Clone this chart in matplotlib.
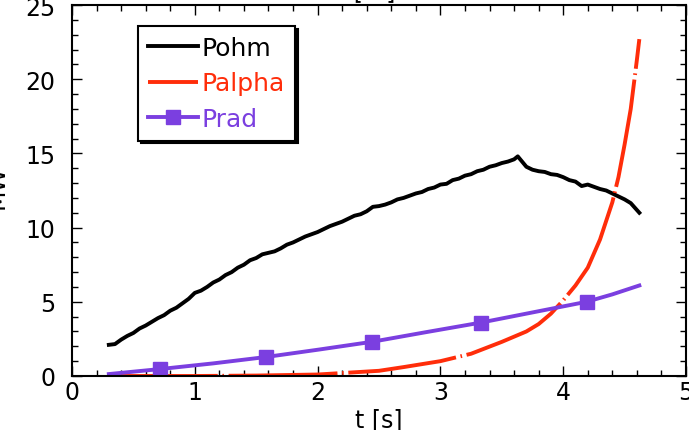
import matplotlib
matplotlib.use("Agg")
import matplotlib.pyplot as plt
from matplotlib.ticker import MultipleLocator

# Ohmic power (MW)
pohm_t = [0.30, 0.35, 0.40, 0.45, 0.50, 0.55, 0.60, 0.65, 0.70, 0.75, 0.80, 0.85, 0.90,
          0.95, 1.00, 1.05, 1.10, 1.15, 1.20, 1.25, 1.30, 1.35, 1.40, 1.45, 1.50, 1.55,
          1.60, 1.65, 1.70, 1.75, 1.80, 1.85, 1.90, 1.95, 2.00, 2.05, 2.10, 2.15, 2.20,
          2.25, 2.30, 2.35, 2.40, 2.45, 2.50, 2.55, 2.60, 2.65, 2.70, 2.75, 2.80, 2.85,
          2.90, 2.95, 3.00, 3.05, 3.10, 3.15, 3.20, 3.25, 3.30, 3.35, 3.40, 3.45, 3.50,
          3.55, 3.60, 3.63, 3.66, 3.70, 3.75, 3.80, 3.85, 3.90, 3.95, 4.00, 4.05, 4.10,
          4.15, 4.20, 4.25, 4.30, 4.35, 4.40, 4.45, 4.50, 4.55, 4.62]
pohm = [2.10, 2.15, 2.45, 2.70, 2.90, 3.20, 3.40, 3.65, 3.90, 4.10, 4.40, 4.60, 4.90,
        5.20, 5.60, 5.75, 6.00, 6.30, 6.50, 6.80, 7.00, 7.30, 7.50, 7.80, 7.95, 8.20,
        8.30, 8.40, 8.60, 8.85, 9.00, 9.20, 9.40, 9.55, 9.70, 9.90, 10.10, 10.25, 10.40,
        10.60, 10.80, 10.90, 11.10, 11.40, 11.45, 11.55, 11.70, 11.90, 12.00, 12.15, 12.30,
        12.40, 12.60, 12.70, 12.90, 12.95, 13.20, 13.30, 13.50, 13.60, 13.80, 13.90, 14.10,
        14.20, 14.35, 14.45, 14.60, 14.80, 14.50, 14.10, 13.90, 13.80, 13.75, 13.60, 13.55,
        13.40, 13.20, 13.10, 12.80, 12.90, 12.75, 12.60, 12.50, 12.30, 12.10, 11.90, 11.65,
        11.00]

# Alpha heating power (MW)
palpha_t = [0.30, 1.00, 1.50, 2.00, 2.50, 2.70, 3.00, 3.25, 3.50, 3.70, 3.80, 3.90, 4.00,
            4.10, 4.20, 4.30, 4.40, 4.45, 4.50, 4.55, 4.60, 4.62]
palpha = [0.00, 0.00, 0.03, 0.10, 0.35, 0.60, 1.00, 1.50, 2.30, 3.00, 3.50, 4.20, 5.10,
          6.10, 7.30, 9.20, 11.70, 13.40, 15.60, 18.00, 21.30, 22.70]

# Radiated power (MW)
prad_t = [0.30, 0.72, 1.15, 1.58, 2.01, 2.44, 2.88, 3.33, 3.76, 4.19, 4.40, 4.62]
prad = [0.13, 0.47, 0.85, 1.28, 1.78, 2.30, 2.95, 3.60, 4.30, 5.00, 5.50, 6.10]
prad_marks = [1, 3, 5, 7, 9]

black = "black"
red = "#ff2d0a"
purple = "#7b3fe0"

fig = plt.figure(figsize=(6.89, 4.31), dpi=100)
ax = fig.add_axes([72 / 689, 1 - 377 / 431, 614 / 689, 371 / 431])

ax.plot(pohm_t, pohm, color=black, lw=2.8, label="Pohm")
ax.plot(palpha_t, palpha, color=red, lw=2.8, dashes=(28, 1.2, 0.4, 1.2), label="Palpha")
ax.plot(prad_t, prad, color=purple, lw=2.8, marker="s", markersize=10,
        markevery=prad_marks, label="Prad")

ax.set_xlim(0, 5)
ax.set_ylim(0, 25)
ax.xaxis.set_major_locator(MultipleLocator(1))
ax.xaxis.set_minor_locator(MultipleLocator(0.2))
ax.yaxis.set_major_locator(MultipleLocator(5))
ax.yaxis.set_minor_locator(MultipleLocator(1))
ax.tick_params(which="both", direction="in", top=True, right=True, labelsize=17, width=1)
ax.tick_params(which="major", length=7)
ax.tick_params(which="minor", length=4)
ax.tick_params(axis="x", pad=3)
ax.tick_params(axis="y", pad=12)
for sp in ax.spines.values():
    sp.set_linewidth(1.5)

ax.set_xlabel("t [s]", fontsize=17, labelpad=2)
fig.text(-3 / 689, 1 - 187 / 431, "MW", rotation=90, fontsize=17, ha="center", va="center")
fig.text(395 / 689, 1 + 2 / 431, "P [W]", fontsize=17, ha="right", va="baseline")

leg = ax.legend(loc="upper left", bbox_to_anchor=(0.1075, 0.943), borderaxespad=0,
                fontsize=18, labelcolor="linecolor", fancybox=False, framealpha=1,
                edgecolor="black", shadow={"color": "black", "alpha": 1},
                handlelength=2.0, handletextpad=0.15, labelspacing=0.45, borderpad=0.4)
leg.get_frame().set_linewidth(1.5)

fig.savefig("out.png", dpi=100)
